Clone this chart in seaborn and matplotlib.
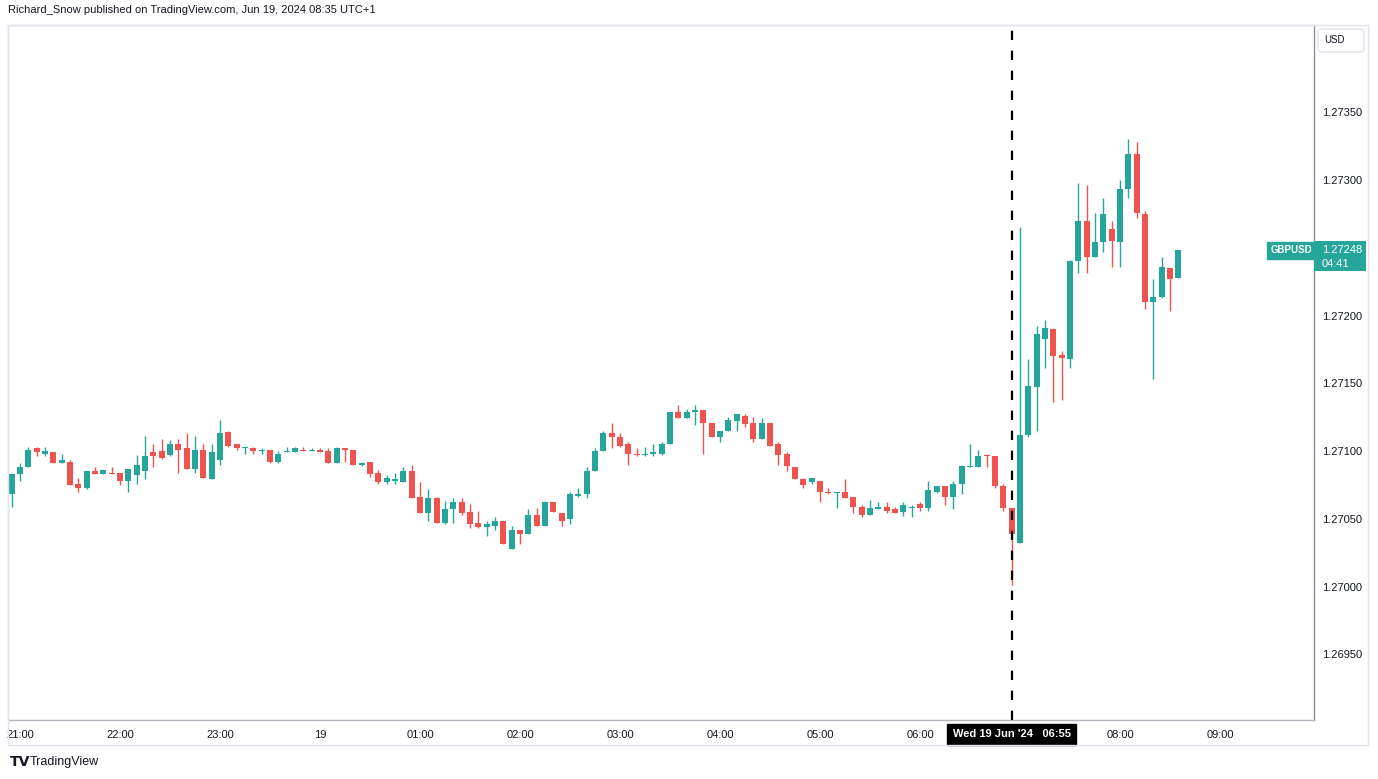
import numpy as np
import pandas as pd
import matplotlib
matplotlib.use("Agg")
import matplotlib.pyplot as plt
import matplotlib.transforms as mtransforms
from matplotlib.patches import Rectangle, FancyBboxPatch
import seaborn as sns

# ---------------- data ----------------
start_time = "2024-06-18 20:55"
opens = [1.27068, 1.27083, 1.27088, 1.27102, 1.27098, 1.27099, 1.27091, 1.27092, 1.27076, 1.27073,
         1.27085, 1.27083, 1.27084, 1.27084, 1.27078, 1.27082, 1.27085, 1.27099, 1.27100, 1.27097,
         1.27105, 1.27102, 1.27087, 1.27101, 1.27079, 1.27093, 1.27114, 1.27105, 1.27102, 1.27102,
         1.27100, 1.27101, 1.27092, 1.27099, 1.27099, 1.27101, 1.27100, 1.27101, 1.27100, 1.27091,
         1.27102, 1.27101, 1.27090, 1.27092, 1.27084, 1.27077, 1.27078, 1.27077, 1.27085, 1.27066,
         1.27054, 1.27065, 1.27047, 1.27057, 1.27062, 1.27055, 1.27047, 1.27044, 1.27045, 1.27048,
         1.27028, 1.27042, 1.27039, 1.27053, 1.27045, 1.27062, 1.27054, 1.27050, 1.27067, 1.27068,
         1.27085, 1.27100, 1.27113, 1.27110, 1.27105, 1.27098, 1.27097, 1.27098, 1.27098, 1.27105,
         1.27129, 1.27124, 1.27129, 1.27130, 1.27121, 1.27110, 1.27115, 1.27122, 1.27126, 1.27121,
         1.27109, 1.27121, 1.27105, 1.27098, 1.27088, 1.27079, 1.27077, 1.27078, 1.27070, 1.27069,
         1.27070, 1.27066, 1.27059, 1.27053, 1.27057, 1.27059, 1.27057, 1.27055, 1.27058, 1.27061,
         1.27058, 1.27070, 1.27074, 1.27066, 1.27076, 1.27088, 1.27088, 1.27097, 1.27096, 1.27074,
         1.27058, 1.27032, 1.27112, 1.27147, 1.27183, 1.27190, 1.27171, 1.27168, 1.27240, 1.27270,
         1.27243, 1.27254, 1.27264, 1.27254, 1.27293, 1.27319, 1.27275, 1.27210, 1.27214, 1.27235,
         1.27228]
highs = [1.27083, 1.27091, 1.27103, 1.27103, 1.27103, 1.27099, 1.27098, 1.27093, 1.27080, 1.27085,
         1.27088, 1.27086, 1.27088, 1.27084, 1.27087, 1.27097, 1.27111, 1.27105, 1.27109, 1.27108,
         1.27109, 1.27113, 1.27111, 1.27105, 1.27105, 1.27123, 1.27115, 1.27105, 1.27103, 1.27103,
         1.27102, 1.27101, 1.27100, 1.27103, 1.27103, 1.27103, 1.27102, 1.27102, 1.27102, 1.27103,
         1.27102, 1.27101, 1.27092, 1.27092, 1.27086, 1.27082, 1.27084, 1.27088, 1.27090, 1.27077,
         1.27072, 1.27066, 1.27063, 1.27065, 1.27065, 1.27061, 1.27056, 1.27048, 1.27051, 1.27048,
         1.27045, 1.27042, 1.27057, 1.27058, 1.27063, 1.27062, 1.27054, 1.27070, 1.27073, 1.27088,
         1.27102, 1.27115, 1.27121, 1.27113, 1.27107, 1.27102, 1.27103, 1.27105, 1.27107, 1.27129,
         1.27134, 1.27131, 1.27134, 1.27130, 1.27121, 1.27115, 1.27125, 1.27127, 1.27127, 1.27125,
         1.27124, 1.27121, 1.27107, 1.27099, 1.27088, 1.27080, 1.27081, 1.27078, 1.27073, 1.27070,
         1.27079, 1.27066, 1.27060, 1.27064, 1.27062, 1.27062, 1.27059, 1.27062, 1.27060, 1.27062,
         1.27078, 1.27074, 1.27074, 1.27078, 1.27090, 1.27105, 1.27101, 1.27098, 1.27096, 1.27076,
         1.27058, 1.27265, 1.27168, 1.27192, 1.27197, 1.27191, 1.27174, 1.27241, 1.27298, 1.27296,
         1.27276, 1.27287, 1.27270, 1.27300, 1.27330, 1.27328, 1.27277, 1.27227, 1.27243, 1.27235,
         1.27248]
lows = [1.27059, 1.27078, 1.27088, 1.27096, 1.27096, 1.27091, 1.27091, 1.27075, 1.27070, 1.27072,
        1.27083, 1.27083, 1.27083, 1.27075, 1.27070, 1.27076, 1.27079, 1.27088, 1.27094, 1.27096,
        1.27084, 1.27087, 1.27084, 1.27080, 1.27079, 1.27090, 1.27103, 1.27101, 1.27098, 1.27098,
        1.27098, 1.27091, 1.27091, 1.27099, 1.27099, 1.27100, 1.27100, 1.27099, 1.27091, 1.27091,
        1.27092, 1.27090, 1.27089, 1.27081, 1.27076, 1.27076, 1.27076, 1.27077, 1.27065, 1.27054,
        1.27048, 1.27047, 1.27046, 1.27047, 1.27053, 1.27043, 1.27043, 1.27037, 1.27042, 1.27031,
        1.27028, 1.27031, 1.27039, 1.27045, 1.27045, 1.27055, 1.27045, 1.27046, 1.27066, 1.27065,
        1.27085, 1.27100, 1.27102, 1.27103, 1.27090, 1.27096, 1.27096, 1.27096, 1.27097, 1.27105,
        1.27124, 1.27124, 1.27119, 1.27098, 1.27110, 1.27107, 1.27115, 1.27115, 1.27118, 1.27107,
        1.27109, 1.27104, 1.27090, 1.27085, 1.27079, 1.27073, 1.27076, 1.27062, 1.27068, 1.27058,
        1.27065, 1.27054, 1.27051, 1.27053, 1.27057, 1.27054, 1.27054, 1.27052, 1.27051, 1.27056,
        1.27056, 1.27069, 1.27060, 1.27057, 1.27068, 1.27088, 1.27088, 1.27088, 1.27073, 1.27056,
        1.27001, 1.27032, 1.27110, 1.27115, 1.27161, 1.27136, 1.27138, 1.27161, 1.27231, 1.27231,
        1.27243, 1.27247, 1.27236, 1.27236, 1.27287, 1.27272, 1.27205, 1.27153, 1.27213, 1.27203,
        1.27228]
closes = [1.27083, 1.27088, 1.27101, 1.27099, 1.27100, 1.27091, 1.27093, 1.27075, 1.27073, 1.27085,
          1.27083, 1.27086, 1.27083, 1.27078, 1.27087, 1.27090, 1.27096, 1.27096, 1.27095, 1.27105,
          1.27101, 1.27087, 1.27101, 1.27080, 1.27099, 1.27113, 1.27104, 1.27102, 1.27103, 1.27100,
          1.27101, 1.27092, 1.27098, 1.27100, 1.27102, 1.27100, 1.27101, 1.27099, 1.27091, 1.27102,
          1.27101, 1.27090, 1.27091, 1.27083, 1.27077, 1.27080, 1.27079, 1.27085, 1.27065, 1.27054,
          1.27065, 1.27047, 1.27057, 1.27062, 1.27054, 1.27046, 1.27044, 1.27046, 1.27048, 1.27031,
          1.27042, 1.27039, 1.27053, 1.27045, 1.27062, 1.27055, 1.27048, 1.27068, 1.27068, 1.27085,
          1.27100, 1.27113, 1.27110, 1.27104, 1.27098, 1.27097, 1.27098, 1.27099, 1.27105, 1.27129,
          1.27124, 1.27129, 1.27130, 1.27121, 1.27110, 1.27115, 1.27123, 1.27127, 1.27120, 1.27109,
          1.27121, 1.27104, 1.27097, 1.27089, 1.27079, 1.27075, 1.27080, 1.27070, 1.27069, 1.27070,
          1.27065, 1.27059, 1.27053, 1.27058, 1.27059, 1.27056, 1.27054, 1.27060, 1.27059, 1.27058,
          1.27071, 1.27074, 1.27066, 1.27076, 1.27089, 1.27089, 1.27096, 1.27096, 1.27074, 1.27058,
          1.27039, 1.27112, 1.27148, 1.27186, 1.27191, 1.27170, 1.27169, 1.27240, 1.27270, 1.27243,
          1.27254, 1.27275, 1.27255, 1.27293, 1.27319, 1.27276, 1.27210, 1.27214, 1.27236, 1.27227,
          1.27248]

price_ticks = [1.26950, 1.27000, 1.27050, 1.27100, 1.27150, 1.27200, 1.27300, 1.27350]
time_tick_times = ["2024-06-18 21:00", "2024-06-18 22:00", "2024-06-18 23:00", "2024-06-19 00:00",
                   "2024-06-19 01:00", "2024-06-19 02:00", "2024-06-19 03:00", "2024-06-19 04:00",
                   "2024-06-19 05:00", "2024-06-19 06:00", "2024-06-19 08:00", "2024-06-19 09:00"]
time_tick_labels = ["21:00", "22:00", "23:00", "19", "01:00", "02:00", "03:00", "04:00",
                    "05:00", "06:00", "08:00", "09:00"]
event_time = "2024-06-19 06:55"
event_label = "Wed 19 Jun '24   06:55"
symbol = "GBPUSD"
currency = "USD"
countdown = "04:41"
header = "Richard_Snow published on TradingView.com, Jun 19, 2024 08:35 UTC+1"

UP = "#26a69a"
DOWN = "#ef5350"
TXT = "#131722"

# ---------------- figure ----------------
sns.set_theme(style="white")
plt.rcParams["font.family"] = ["Liberation Sans", "DejaVu Sans"]

W, H = 1378, 779
fig = plt.figure(figsize=(W / 100, H / 100), dpi=100)
fig.patch.set_facecolor("white")

# chart pane (pixels: x 8..1314, y 25..720)
ax = fig.add_axes([8 / W, (H - 720) / H, (1314 - 8) / W, (720 - 25) / H])
ax.set_facecolor("white")

df = pd.DataFrame({"open": opens, "high": highs, "low": lows, "close": closes})
df["time"] = pd.date_range(start_time, periods=len(df), freq="5min")
t0 = pd.Timestamp(start_time)
step = pd.Timedelta("5min")
df["x"] = (df["time"] - t0) / step
df["up"] = df["close"] >= df["open"]
df["color"] = np.where(df["up"], UP, DOWN)
df["body_lo"] = df[["open", "close"]].min(axis=1)
df["body_h"] = (df["close"] - df["open"]).abs().clip(lower=0.0000075)

# wicks then bodies
ax.vlines(df["x"], df["low"], df["high"], colors=df["color"], linewidth=1.0, zorder=2)
ax.bar(df["x"], df["body_h"], bottom=df["body_lo"], width=0.72, color=df["color"],
       linewidth=0, zorder=3)

# limits
ymin, ymax = 1.2690148, 1.2741439
ax.set_xlim(-0.444, 156.28)
ax.set_ylim(ymin, ymax)
px = (ymax - ymin) / 695.0   # price units per pixel, used for label box sizes

# event line
ev_x = (pd.Timestamp(event_time) - t0) / step
ax.axvline(ev_x, color="black", linewidth=1.6, linestyle=(0, (4.2, 4.8)), zorder=4)

# axes styling
for s in ["left", "top"]:
    ax.spines[s].set_color("#e0e3eb")
    ax.spines[s].set_linewidth(1.0)
ax.spines["right"].set_color("#8b8e97")
ax.spines["bottom"].set_color("#b2b5be")
ax.spines["right"].set_linewidth(1.0)
ax.spines["bottom"].set_linewidth(1.0)
ax.grid(False)

ax.yaxis.tick_right()
ax.set_yticks(price_ticks)
ax.set_yticklabels([f"{p:.5f}" for p in price_ticks])
ax.tick_params(axis="y", length=0, pad=6, labelsize=8, labelcolor=TXT)

tick_x = [(pd.Timestamp(t) - t0) / step for t in time_tick_times]
ax.set_xticks(tick_x)
ax.set_xticklabels(time_tick_labels)
ax.tick_params(axis="x", length=0, pad=7, labelsize=8, labelcolor=TXT)

# crosshair time label
bt = mtransforms.blended_transform_factory(ax.transData, ax.transAxes)
ax.text(ev_x, -0.0205, event_label, transform=bt, ha="center", va="center",
        color="white", fontsize=8, fontweight="bold", clip_on=False, zorder=10,
        bbox=dict(boxstyle="square,pad=0.5", fc="black", ec="black"))

# last price labels
last = closes[-1]
bt2 = mtransforms.blended_transform_factory(ax.transAxes, ax.transData)
ax.text(0.9985, last, symbol, transform=bt2, ha="right", va="center", color="white",
        fontsize=7, fontweight="bold", clip_on=False, zorder=10,
        bbox=dict(boxstyle="square,pad=0.38", fc=UP, ec=UP))
ax.add_patch(Rectangle((1.0, last - 21 * px), 52 / 1306, 30 * px, transform=bt2,
                       fc=UP, ec="none", clip_on=False, zorder=9))
ax.text(1.0 + 8 / 1306, last, f"{last:.5f}", transform=bt2, ha="left", va="center",
        color="white", fontsize=8, clip_on=False, zorder=10)
ax.text(1.0 + 8 / 1306, last - 14 * px, countdown, transform=bt2, ha="left", va="center",
        color="white", fontsize=8, clip_on=False, zorder=10)

# outer frame
fig.patches.append(Rectangle((8 / W, (H - 745) / H), (1368 - 8) / W, (745 - 25) / H,
                             transform=fig.transFigure, fill=False, ec="#e0e3eb", lw=1.0))
# USD box
fig.patches.append(FancyBboxPatch((1318 / W, (H - 52) / H), 46 / W, 23 / H,
                                  boxstyle="round,pad=0,rounding_size=0.004",
                                  transform=fig.transFigure, fc="white", ec="#e0e3eb", lw=1.0))
fig.text(1324 / W, 1 - 40 / H, currency, ha="left", va="center", fontsize=7, color=TXT)

# header and footer
fig.text(8 / W, 1 - 10 / H, header, ha="left", va="center", fontsize=8, color=TXT)
fig.text(10 / W, 1 - 762 / H, "TV", ha="left", va="center", fontsize=10, fontweight="heavy",
         color=TXT, family="DejaVu Sans")
fig.text(30 / W, 1 - 762 / H, "TradingView", ha="left", va="center", fontsize=9, color=TXT)

fig.savefig("out.png", dpi=100, facecolor="white")
